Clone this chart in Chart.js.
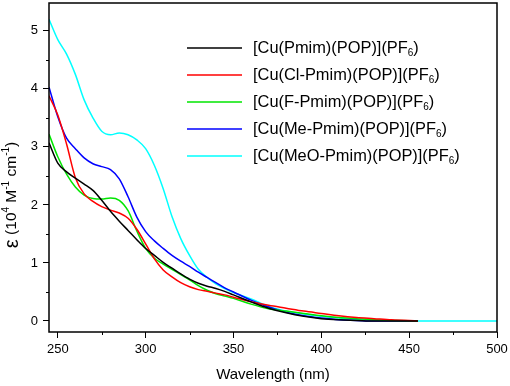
<!DOCTYPE html>
<html>
<head>
<meta charset="utf-8">
<script src="https://cdn.jsdelivr.net/npm/chart.js@4.4.1/dist/chart.umd.min.js"></script>
<style>
  html, body { margin: 0; padding: 0; background: #fff; }
  #wrap { width: 510px; height: 386px; }
</style>
</head>
<body>
<div id="wrap"><canvas id="absChart"></canvas></div>
<script>
// Absorption spectra, epsilon in 10^4 M-1 cm-1
const wavelengths = [245, 250, 255, 260, 265, 270, 275, 280, 285, 290, 295, 300, 305, 310, 315, 320, 325, 330, 335, 340, 345, 350, 360, 370, 380, 390, 400, 410, 420, 430, 440, 455, 500];

const pmim    = [3.07, 2.72, 2.57, 2.46, 2.36, 2.25, 2.08, 1.89, 1.72, 1.56, 1.40, 1.25, 1.13, 1.01, 0.91, 0.81, 0.72, 0.65, 0.60, 0.56, 0.51, 0.45, 0.33, 0.22, 0.14, 0.08, 0.04, 0.02, 0.01, 0.00, 0.00, 0.00, null];
const clPmim  = [3.88, 3.55, 3.05, 2.47, 2.19, 2.06, 1.97, 1.91, 1.86, 1.77, 1.58, 1.33, 1.07, 0.88, 0.76, 0.66, 0.59, 0.54, 0.51, 0.48, 0.45, 0.41, 0.33, 0.27, 0.22, 0.17, 0.13, 0.09, 0.06, 0.04, 0.02, 0.00, null];
const fPmim   = [3.22, 2.83, 2.53, 2.31, 2.17, 2.11, 2.10, 2.12, 2.08, 1.90, 1.55, 1.25, 1.08, 0.98, 0.89, 0.80, 0.71, 0.61, 0.53, 0.47, 0.43, 0.39, 0.29, 0.21, 0.17, 0.13, 0.09, 0.06, 0.04, 0.02, 0.01, 0.00, null];
const mePmim  = [4.03, 3.52, 3.15, 2.97, 2.81, 2.71, 2.66, 2.61, 2.45, 2.14, 1.79, 1.54, 1.38, 1.25, 1.13, 1.03, 0.94, 0.84, 0.75, 0.66, 0.57, 0.50, 0.36, 0.24, 0.15, 0.09, 0.05, 0.02, 0.01, 0.00, 0.00, 0.00, null];
const meoPmim = [5.20, 4.85, 4.60, 4.25, 3.81, 3.50, 3.27, 3.21, 3.24, 3.21, 3.12, 2.97, 2.68, 2.28, 1.80, 1.42, 1.13, 0.89, 0.75, 0.64, 0.56, 0.49, 0.38, 0.25, 0.17, 0.12, 0.08, 0.05, 0.03, 0.02, 0.01, 0.00, 0.00];

const seriesNames = ['[Cu(Pmim)(POP)](PF', '[Cu(Cl-Pmim)(POP)](PF', '[Cu(F-Pmim)(POP)](PF', '[Cu(Me-Pmim)(POP)](PF', '[Cu(MeO-Pmim)(POP)](PF'];
const seriesColors = ['#000000', '#ff0000', '#00e600', '#0000ff', '#00ffff'];
const seriesValues = [pmim, clPmim, fPmim, mePmim, meoPmim];

const xTicks = [250, 300, 350, 400, 450, 500];
const xMinor = [275, 325, 375, 425, 475];
const yTicks = [0, 1, 2, 3, 4, 5];
const yMinor = [0.5, 1.5, 2.5, 3.5, 4.5];

const FONT = '"Liberation Sans", Arial, sans-serif';

function toPoints(vals) {
    return wavelengths.map((x, i) => ({ x: x, y: vals[i] })).filter(p => p.y !== null);
}

// text pieces with sub/superscripts
function partSize(p, size) {
    if (p.big) return size * 1.3;
    return p.s ? Math.round(size * 0.62) : size;
}
function richWidth(ctx, parts, size) {
    let w = 0;
    parts.forEach(p => {
        ctx.font = partSize(p, size) + 'px ' + FONT;
        w += ctx.measureText(p.t).width;
    });
    return w;
}
function drawRich(ctx, parts, x, y, size) {
    let cx = x;
    parts.forEach(p => {
        ctx.font = partSize(p, size) + 'px ' + FONT;
        let dy = 0;
        if (p.s === 'sub') dy = size * 0.32;
        if (p.s === 'sup') dy = -size * 0.35;
        ctx.fillText(p.t, cx, y + dy);
        cx += ctx.measureText(p.t).width;
    });
}

const decorPlugin = {
    id: 'decor',
    afterDraw(chart) {
        const ctx = chart.ctx;
        const a = chart.chartArea;
        const xs = chart.scales.x, ys = chart.scales.y;
        ctx.save();
        ctx.strokeStyle = '#000';
        ctx.lineWidth = 1.5;
        ctx.strokeRect(a.left, a.top, a.right - a.left, a.bottom - a.top);

        // minor ticks
        ctx.lineWidth = 1;
        ctx.beginPath();
        xMinor.forEach(v => {
            const px = Math.round(xs.getPixelForValue(v)) + 0.5;
            ctx.moveTo(px, a.bottom);
            ctx.lineTo(px, a.bottom + 3);
        });
        yMinor.forEach(v => {
            const py = Math.round(ys.getPixelForValue(v)) + 0.5;
            ctx.moveTo(a.left, py);
            ctx.lineTo(a.left - 3, py);
        });
        ctx.stroke();

        ctx.fillStyle = '#000';
        ctx.textBaseline = 'middle';

        // x title
        ctx.font = '15px ' + FONT;
        ctx.textAlign = 'center';
        ctx.fillText('Wavelength (nm)', (a.left + a.right) / 2, 375);

        // y title
        ctx.textAlign = 'left';
        const yParts = [
            { t: 'ε', big: true }, { t: ' (10' }, { t: '4', s: 'sup' }, { t: ' M' }, { t: '-1', s: 'sup' },
            { t: ' cm' }, { t: '-1', s: 'sup' }, { t: ')' }
        ];
        ctx.save();
        ctx.translate(12, 195);
        ctx.rotate(-Math.PI / 2);
        const yw = richWidth(ctx, yParts, 15.5);
        drawRich(ctx, yParts, -yw / 2, 0, 15.5);
        ctx.restore();

        // legend
        const legY = [48, 75, 102, 129, 156];
        seriesNames.forEach((name, i) => {
            ctx.strokeStyle = seriesColors[i];
            ctx.lineWidth = 1.5;
            ctx.beginPath();
            ctx.moveTo(187, legY[i]);
            ctx.lineTo(242, legY[i]);
            ctx.stroke();
            ctx.fillStyle = '#000';
            drawRich(ctx, [{ t: name }, { t: '6', s: 'sub' }, { t: ')' }], 253, legY[i], 16.4);
        });
        ctx.restore();
    }
};

const ctxAbs = document.getElementById('absChart').getContext('2d');
new Chart(ctxAbs, {
    type: 'line',
    data: {
        datasets: seriesValues.map((vals, i) => ({
            label: seriesNames[i] + '6)',
            data: toPoints(vals),
            borderColor: seriesColors[i],
            backgroundColor: seriesColors[i],
            borderWidth: 1.5,
            pointRadius: 0,
            cubicInterpolationMode: 'monotone',
            fill: false
        }))
    },
    options: {
        responsive: true,
        maintainAspectRatio: false,
        animation: false,
        layout: { padding: { top: 3, right: 13, left: 0, bottom: 0 } },
        plugins: {
            legend: { display: false },
            tooltip: { enabled: false }
        },
        scales: {
            x: {
                type: 'linear',
                min: 245,
                max: 500,
                afterFit: s => { s.height = 54; s.paddingLeft = 0; s.paddingRight = 0; },
                afterBuildTicks: s => { s.ticks = xTicks.map(v => ({ value: v })); },
                grid: { drawOnChartArea: false, drawTicks: true, tickLength: 6, color: '#000', lineWidth: 1 },
                border: { display: false },
                ticks: { color: '#000', padding: 4, maxRotation: 0, font: { family: FONT, size: 13 } }
            },
            y: {
                type: 'linear',
                min: -0.19,
                max: 5.48,
                afterFit: s => { s.width = 49; s.paddingTop = 0; s.paddingBottom = 0; },
                afterBuildTicks: s => { s.ticks = yTicks.map(v => ({ value: v })); },
                grid: { drawOnChartArea: false, drawTicks: true, tickLength: 6, color: '#000', lineWidth: 1 },
                border: { display: false },
                ticks: { color: '#000', padding: 5, font: { family: FONT, size: 13 } }
            }
        }
    },
    plugins: [decorPlugin]
});
</script>
</body>
</html>
